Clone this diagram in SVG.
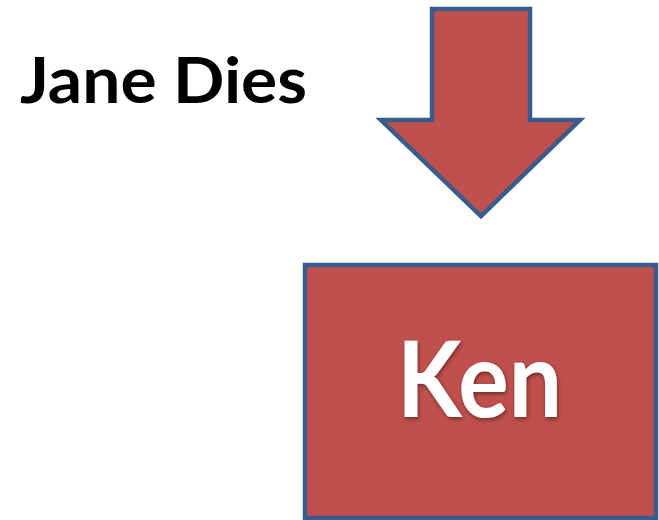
<svg xmlns="http://www.w3.org/2000/svg" width="659" height="520" viewBox="0 0 659 520">
  <style>
    .shape { fill: #C0504D; stroke: #385D8A; stroke-width: 4.5; stroke-linejoin: miter; }
    .title { font-family: Lato, "Open Sans", "Liberation Sans", sans-serif; font-weight: bold; fill: #000000; }
    .label { font-family: Lato, "Open Sans", "Liberation Sans", sans-serif; font-weight: bold; fill: #FFFFFF; }
  </style>
  <defs>
    <filter id="textShadow" x="-20%" y="-20%" width="140%" height="140%">
      <feDropShadow dx="1" dy="2" stdDeviation="2" flood-color="#000000" flood-opacity="0.45"/>
    </filter>
  </defs>
  <rect width="659" height="520" fill="#FFFFFF"/>

  <g id="jane-dies">
    <text class="title" x="20" y="103" font-size="64" textLength="287" lengthAdjust="spacingAndGlyphs">Jane Dies</text>
  </g>

  <g id="connectors">
    <path class="shape" d="M432 9 L530 9 L530 120 L580 120 L481 216 L381 120 L432 120 Z"/>
  </g>

  <g id="ken">
    <rect class="shape" x="305" y="265" width="351" height="253"/>
    <text class="label" x="397" y="417" font-size="106" textLength="165" lengthAdjust="spacingAndGlyphs" filter="url(#textShadow)">Ken</text>
  </g>
</svg>
